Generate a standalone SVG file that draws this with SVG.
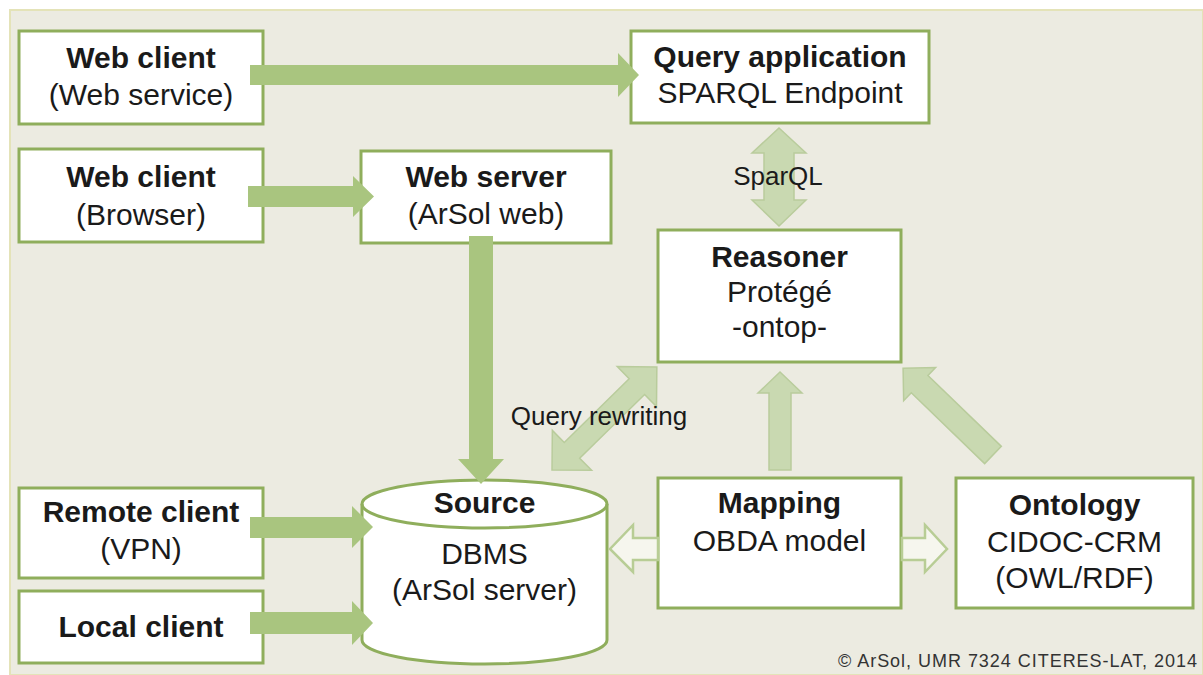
<svg xmlns="http://www.w3.org/2000/svg" width="1203" height="675" viewBox="0 0 1203 675">
<style>
.box{fill:#ffffff;stroke:#8fae5c;stroke-width:3}
.t{font-family:"Liberation Sans",Arial,sans-serif;font-size:30px;fill:#1a1a1a;text-anchor:middle}
.b{font-weight:bold}
.lbl{font-family:"Liberation Sans",Arial,sans-serif;font-size:26px;fill:#1a1a1a;text-anchor:middle}
.solid{fill:#a9c57f}
.pale{fill:#c9d9b1;stroke:#b9cc9c;stroke-width:1.5}
.hollow{fill:#f6f6ee;stroke:#b8cd95;stroke-width:2.5}
</style>
<rect x="0" y="0" width="1203" height="675" fill="#ffffff"/>
<rect x="10" y="10" width="1193" height="665" fill="#ecebe1" stroke="#e4e3b8" stroke-width="2"/>

<g id="web-client-service">
<rect class="box" x="19" y="31" width="244" height="93"/>
<text class="t b" x="141" y="68">Web client</text>
<text class="t" x="141" y="105">(Web service)</text>
</g>
<g id="web-client-browser">
<rect class="box" x="19" y="149" width="244" height="93"/>
<text class="t b" x="141" y="187">Web client</text>
<text class="t" x="141" y="225">(Browser)</text>
</g>
<g id="query-application">
<rect class="box" x="631" y="31" width="298" height="92"/>
<text class="t b" x="780" y="67">Query application</text>
<text class="t" x="780" y="103">SPARQL Endpoint</text>
</g>
<g id="web-server">
<rect class="box" x="361" y="151" width="250" height="92"/>
<text class="t b" x="486" y="187">Web server</text>
<text class="t" x="486" y="224">(ArSol web)</text>
</g>
<g id="reasoner">
<rect class="box" x="658" y="230" width="243" height="132"/>
<text class="t b" x="779.5" y="267">Reasoner</text>
<text class="t" x="779.5" y="302">Protégé</text>
<text class="t" x="779.5" y="337">-ontop-</text>
</g>
<g id="remote-client">
<rect class="box" x="19" y="488" width="244" height="90"/>
<text class="t b" x="141" y="522">Remote client</text>
<text class="t" x="141" y="559">(VPN)</text>
</g>
<g id="local-client">
<rect class="box" x="19" y="591" width="244" height="72"/>
<text class="t b" x="141" y="637">Local client</text>
</g>
<g id="source">
<path class="box" d="M362,504 L362,640 A122.5,24 0 0 0 607,640 L607,504 A122.5,24 0 0 0 362,504 Z"/>
<path d="M362,504 A122.5,24 0 0 0 607,504" fill="none" stroke="#8fae5c" stroke-width="3"/>
<text class="t b" x="484.5" y="513">Source</text>
<text class="t" x="484.5" y="564">DBMS</text>
<text class="t" x="484.5" y="600">(ArSol server)</text>
</g>
<g id="mapping">
<rect class="box" x="658" y="478" width="243" height="130"/>
<text class="t b" x="779.5" y="513">Mapping</text>
<text class="t" x="779.5" y="551">OBDA model</text>
</g>
<g id="ontology">
<rect class="box" x="956" y="478" width="237" height="130"/>
<text class="t b" x="1074.5" y="515">Ontology</text>
<text class="t" x="1074.5" y="552">CIDOC-CRM</text>
<text class="t" x="1074.5" y="588">(OWL/RDF)</text>
</g>

<g id="connectors">
<polygon class="solid" points="250,65 618,65 618,53 639,75 618,97 618,85 250,85"/>
<polygon class="solid" points="248,186 353,186 353,176 374,196.5 353,217 353,207 248,207"/>
<polygon class="solid" points="469,236 493,236 493,459 504,459 481,484 458,459 469,459"/>
<polygon class="solid" points="250,517 352,517 352,506 373,527 352,548 352,538 250,538"/>
<polygon class="solid" points="250,612 352,612 352,601 373,623 352,645 352,634 250,634"/>
<polygon class="pale" points="779,128 806,153 794,153 794,200 806,200 779,226 752,200 764,200 764,153 752,153"/>
<text class="lbl" x="778" y="185">SparQL</text>
<polygon class="pale" transform="translate(552,470) rotate(-44.5)" points="0,0 28,-28 28,-11 119,-11 119,-28 147,0 119,28 119,11 28,11 28,28"/>
<text class="lbl" x="599" y="425">Query rewriting</text>
<polygon class="pale" points="780,372 802,393 791,393 791,470 769,470 769,393 758,393"/>
<polygon class="pale" transform="translate(993,455) rotate(-136)" points="0,-12 102,-12 102,-23 125,0 102,23 102,12 0,12"/>
<polygon class="hollow" points="658,538 633,538 633,525 610,549 633,572 633,560 658,560"/>
<polygon class="hollow" points="902,538 925,538 925,525 947,549 925,572 925,560 902,560"/>
</g>
<text x="1197" y="667" font-family="'Liberation Sans',Arial,sans-serif" font-size="18" fill="#333333" text-anchor="end" textLength="359">© ArSol, UMR 7324 CITERES-LAT, 2014</text>
</svg>
